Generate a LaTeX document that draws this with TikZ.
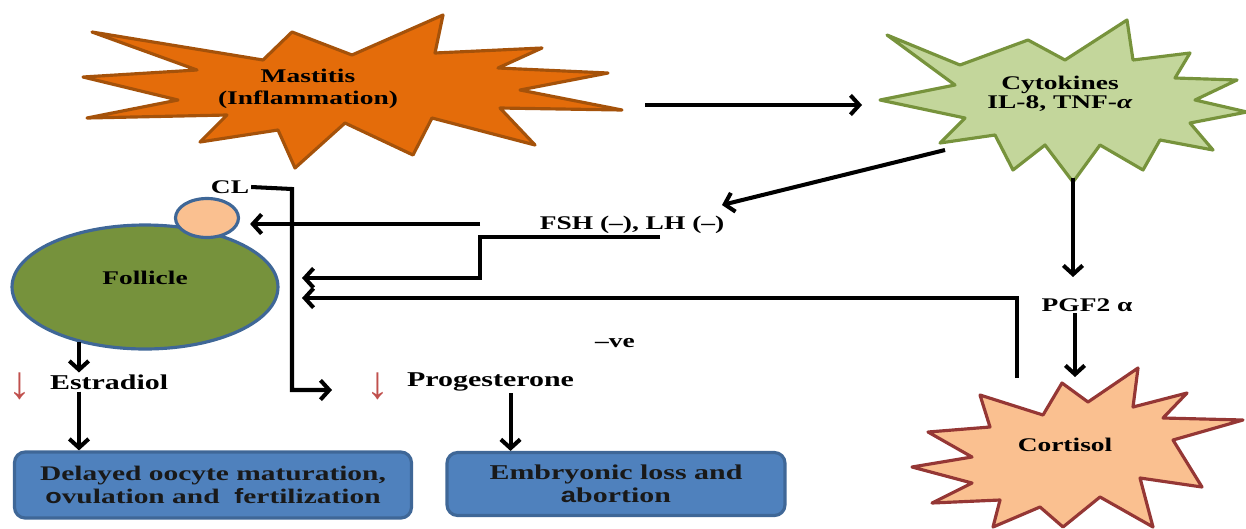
\documentclass[tikz,border=0pt]{standalone}
\usepackage{fontspec}
\setmainfont{Liberation Serif}[FakeStretch=1.42]
\newfontfamily\arrowfont{Liberation Serif}
\newfontfamily\oddfont{Liberation Sans}[FakeStretch=1.3]
\usetikzlibrary{arrows.meta, shapes.geometric}

\definecolor{mastorange}{HTML}{E46C0A}
\definecolor{mastedge}{HTML}{A5520A}
\definecolor{cytofill}{HTML}{C3D69B}
\definecolor{cytoedge}{HTML}{77933C}
\definecolor{cortfill}{HTML}{FAC090}
\definecolor{cortedge}{HTML}{953735}
\definecolor{folfill}{HTML}{76923C}
\definecolor{bluedge}{HTML}{3F6797}
\definecolor{boxfill}{HTML}{4F81BD}
\definecolor{downred}{HTML}{C0504D}

\begin{document}
\begin{tikzpicture}[x=0.02cm, y=-0.02cm,
  flow line/.style={line width=2.3pt, -{Straight Barb[length=5pt,width=11pt]}},
  burst/.style={line width=1.8pt, line join=round},
  burst text/.style={font=\fontsize{11}{12.5}\selectfont\bfseries, align=center, inner sep=1pt},
  label text/.style={font=\fontsize{12}{14}\selectfont\bfseries, inner sep=1pt},
  down mark/.style={font=\arrowfont\fontsize{26}{26}\selectfont, text=downred, inner sep=0pt},
  effect box/.style={rectangle, rounded corners=6pt, draw=bluedge, fill=boxfill, line width=1.8pt,
    align=center, text=black!90}]
\useasboundingbox (0,0) rectangle (1246,528);

\draw[burst, fill=mastorange, draw=mastedge] (92,32) -- (263,60) -- (292,32) -- (352,55) -- (443,15)
  -- (435,53) -- (542,48) -- (498,68) -- (608,73) -- (520,90) -- (622,110) -- (500,108) -- (535,145)
  -- (432,118) -- (413,155) -- (345,123) -- (295,168) -- (278,130) -- (200,142) -- (227,115)
  -- (87,118) -- (178,100) -- (83,77) -- (197,70) -- cycle;
\draw[burst, fill=cytofill, draw=cytoedge] (887,35) -- (960,65) -- (1028,40) -- (1065,60) -- (1127,20)
  -- (1133,60) -- (1190,53) -- (1175,78) -- (1237,80) -- (1195,100) -- (1247,112) -- (1190,123)
  -- (1213,150) -- (1160,140) -- (1143,170) -- (1100,145) -- (1073,182) -- (1045,145) -- (1013,170)
  -- (995,135) -- (940,143) -- (965,118) -- (880,100) -- (955,85) -- cycle;
\draw[burst, fill=cortfill, draw=cortedge] (1062,383) -- (1088,402) -- (1138,368) -- (1133,407)
  -- (1187,393) -- (1163,418) -- (1243,420) -- (1173,440) -- (1202,487) -- (1140,478) -- (1153,527)
  -- (1100,497) -- (1063,527) -- (1040,507) -- (993,527) -- (1000,500) -- (932,503) -- (972,483)
  -- (912,467) -- (972,457) -- (928,432) -- (990,427) -- (980,395) -- (1043,415) -- cycle;

\node[burst text] (mastitis) at (308,89) {Mastitis\\(Inflammation)};
\node[burst text, font=\fontsize{11}{10.5}\selectfont\bfseries] (cytokines) at (1060,94) {Cytokines\\IL-8, TNF-\textit{α}};
\node[burst text] (cortisol) at (1065,445) {Cortisol};

\node[ellipse, draw=bluedge, fill=folfill, line width=1.8pt, minimum width=5.32cm, minimum height=2.48cm] (follicle) at (145,287) {};
\node[burst text] (follicle label) at (145,278) {Follicle};
\node[ellipse, draw=bluedge, fill=cortfill, line width=1.8pt, minimum width=1.26cm, minimum height=0.78cm] (cl) at (207,218) {};
\node[burst text] (cl label) at (230,187) {CL};

\node[burst text] (fsh) at (632,225) {FSH (–), LH (–)};
\node[burst text] (pgf) at (1087,305) {PGF2 α};
\node[burst text] (negative) at (615,343) {–ve};

\node[down mark] (estradiol down) at (20,386) {↓};
\node[label text, anchor=west] (estradiol) at (48,382) {Estradiol};
\node[down mark] (progesterone down) at (378,386) {↓};
\node[label text, anchor=west] (progesterone) at (405,382) {Progesterone};

\node[effect box, font=\fontsize{11.8}{12.8}\selectfont\bfseries, minimum width=7.94cm, minimum height=1.32cm] (delayed) at (213,485)
  {Delayed oocyte maturation,\\{\oddfont o}vulation and \ {\oddfont f}ertilization};
\node[effect box, font=\fontsize{12}{13}\selectfont\bfseries, minimum width=6.76cm, minimum height=1.26cm] (embryo) at (616,484)
  {Embryonic loss and\\{\oddfont a}bortion};

\coordinate (mastitis out) at (645,105);
\coordinate (cytokines in) at (862,105);
\coordinate (cytokines out) at (945,150);
\coordinate (fsh in) at (722,205);
\coordinate (cytokines down) at (1073,178);
\coordinate (pgf in) at (1073,277);
\coordinate (pgf out) at (1075,313);
\coordinate (cortisol in) at (1075,377);
\coordinate (cortisol up) at (1017,378);
\coordinate (follicle in b) at (302,298);
\coordinate (fsh under) at (660,237);
\coordinate (fsh step) at (480,237);
\coordinate (follicle in a) at (302,278);
\coordinate (cl in) at (480,224);
\coordinate (cl bend) at (292,189);
\coordinate (cl tip) at (332,390);

\draw[flow line] (mastitis out) -- (cytokines in);
\draw[flow line] (cytokines out) -- (fsh in);
\draw[flow line] (cytokines down) -- (pgf in);
\draw[flow line] (pgf out) -- (cortisol in);
\draw[flow line] (cortisol up) |- (follicle in b);
\draw[flow line] (fsh under) -- (fsh step) |- (follicle in a);
\draw[flow line, shorten >=0.2cm] (cl in) -- (cl in -| cl.east);
\draw[flow line] (cl label.east) -- (cl bend) |- (cl tip);
\draw[flow line] (follicle.-140) -- (follicle.-140 |- estradiol.north);
\draw[flow line] (estradiol.south -| follicle.-140) -- (delayed.north -| follicle.-140);
\draw[flow line] ([xshift=0.4cm]progesterone.south) -- ([xshift=0.4cm]progesterone.south |- embryo.north);
\end{tikzpicture}
\end{document}
